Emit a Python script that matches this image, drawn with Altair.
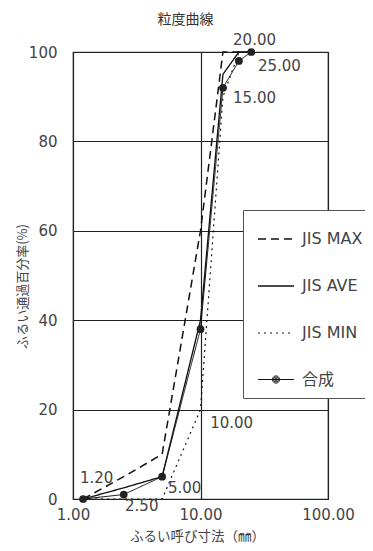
import altair as alt
import pandas as pd

# ---- data ----
sieve = [1.2, 2.5, 5, 10, 15, 20, 25]
jis_max = [0, 5, 10, 60, 100, 100, 100]
jis_ave = [0, 2.5, 5, 40, 95, 100, 100]
jis_min = [0, 0, 0, 20, 90, 100, 100]
gousei = [0, 1, 5, 38, 92, 98, 100]

series_order = ["JIS MAX", "JIS AVE", "JIS MIN", "合成"]

ann_text = ["1.20", "2.50", "5.00", "10.00", "15.00", "20.00", "25.00"]
ann_x = [1.135, 2.56, 5.56, 11.9, 18.0, 18.0, 28.2]
ann_y = [4.7, -1.6, 2.5, 17.0, 89.7, 102.7, 96.9]

rows = []
for name, vals in zip(series_order, [jis_max, jis_ave, jis_min, gousei]):
    for s, v in zip(sieve, vals):
        rows.append({"sieve": s, "pct": v, "series": name})
df = pd.DataFrame(rows)
df_g = df[df["series"] == "合成"]
df_ann = pd.DataFrame({"label": ann_text, "sieve": ann_x, "pct": ann_y})

NUM_FONT = "DejaVu Sans"
JP_FONT = "Noto Sans CJK JP"

circle_path = "M-1,0H1" + "".join(
    f"M{-r},0a{r},{r} 0 1,0 {2*r},0a{r},{r} 0 1,0 {-2*r},0" for r in [0.2, 0.14, 0.08, 0.03]
)

leg = alt.Legend(
    title=None,
    orient="none",
    legendX=170,
    legendY=158,
    fillColor="white",
    strokeColor="#555",
    padding=10,
    rowPadding=20,
    symbolSize=1296,
    symbolOffset=4,
    labelOffset=7,
    labelFont="DejaVu Sans, Noto Sans CJK JP",
    labelFontSize=16,
    labelColor="#444",
    symbolStrokeColor="#111",
    symbolType=alt.ExprRef(expr="datum.value === '合成' ? '" + circle_path + "' : 'stroke'"),
)

x_enc = alt.X(
    "sieve:Q",
    scale=alt.Scale(type="log", domain=[1, 100], nice=False),
    axis=alt.Axis(
        values=[1, 10, 100], format=".2f", grid=True, ticks=False, domain=False,
        labelFlush=False,
        labelFont=NUM_FONT, labelFontSize=15, labelColor="#444", labelPadding=8,
        title="ふるい呼び寸法（㎜）", titleFont=JP_FONT, titleFontSize=13.5,
        titleFontWeight="normal", titleColor="#444", titleX=124, titleY=37,
        titleBaseline="middle",
    ),
)
y_enc = alt.Y(
    "pct:Q",
    scale=alt.Scale(domain=[0, 100], nice=False),
    axis=alt.Axis(
        values=[0, 20, 40, 60, 80, 100], grid=True, ticks=False, domain=False,
        labelFlush=False,
        labelFont=NUM_FONT, labelFontSize=15, labelColor="#444", labelPadding=16,
        title="ふるい通過百分率(%)", titleFont=JP_FONT, titleFontSize=13,
        titleFontWeight="normal", titleColor="#444", titleX=-51, titleY=234,
        titleAngle=270, titleBaseline="middle",
    ),
)

lines = alt.Chart(df).mark_line(color="#111", strokeCap="butt").encode(
    x=x_enc,
    y=y_enc,
    strokeDash=alt.StrokeDash(
        "series:N",
        scale=alt.Scale(domain=series_order, range=[[8, 5], [1, 0], [2, 4], [1, 0]]),
        legend=leg,
    ),
    strokeWidth=alt.StrokeWidth(
        "series:N",
        scale=alt.Scale(domain=series_order, range=[1.5, 1.0, 2.0, 2.0]),
        legend=leg,
    ),
)

points = alt.Chart(df_g).mark_circle(size=60, color="#222", opacity=1).encode(
    x="sieve:Q", y="pct:Q"
)

labels = alt.Chart(df_ann).mark_text(
    align="left", baseline="middle", font=NUM_FONT, fontSize=15, color="#444"
).encode(x="sieve:Q", y="pct:Q", text="label:N")

chart = (
    alt.layer(lines, points, labels)
    .properties(
        width=255,
        height=447,
        autosize=alt.AutoSizeParams(type="none"),
        padding={"left": 65, "top": 44, "right": 37, "bottom": 44},
        title=alt.TitleParams(
            "粒度曲線", font=JP_FONT, fontSize=14, fontWeight="normal",
            color="#333", offset=6, dx=-15, anchor="middle",
        ),
    )
    .configure_view(stroke="#333", strokeWidth=1.2)
    .configure_axis(gridColor="#222", gridWidth=1.2, gridOpacity=1)
)

chart.save("out.html", embed_options={"renderer": "svg", "actions": False})
